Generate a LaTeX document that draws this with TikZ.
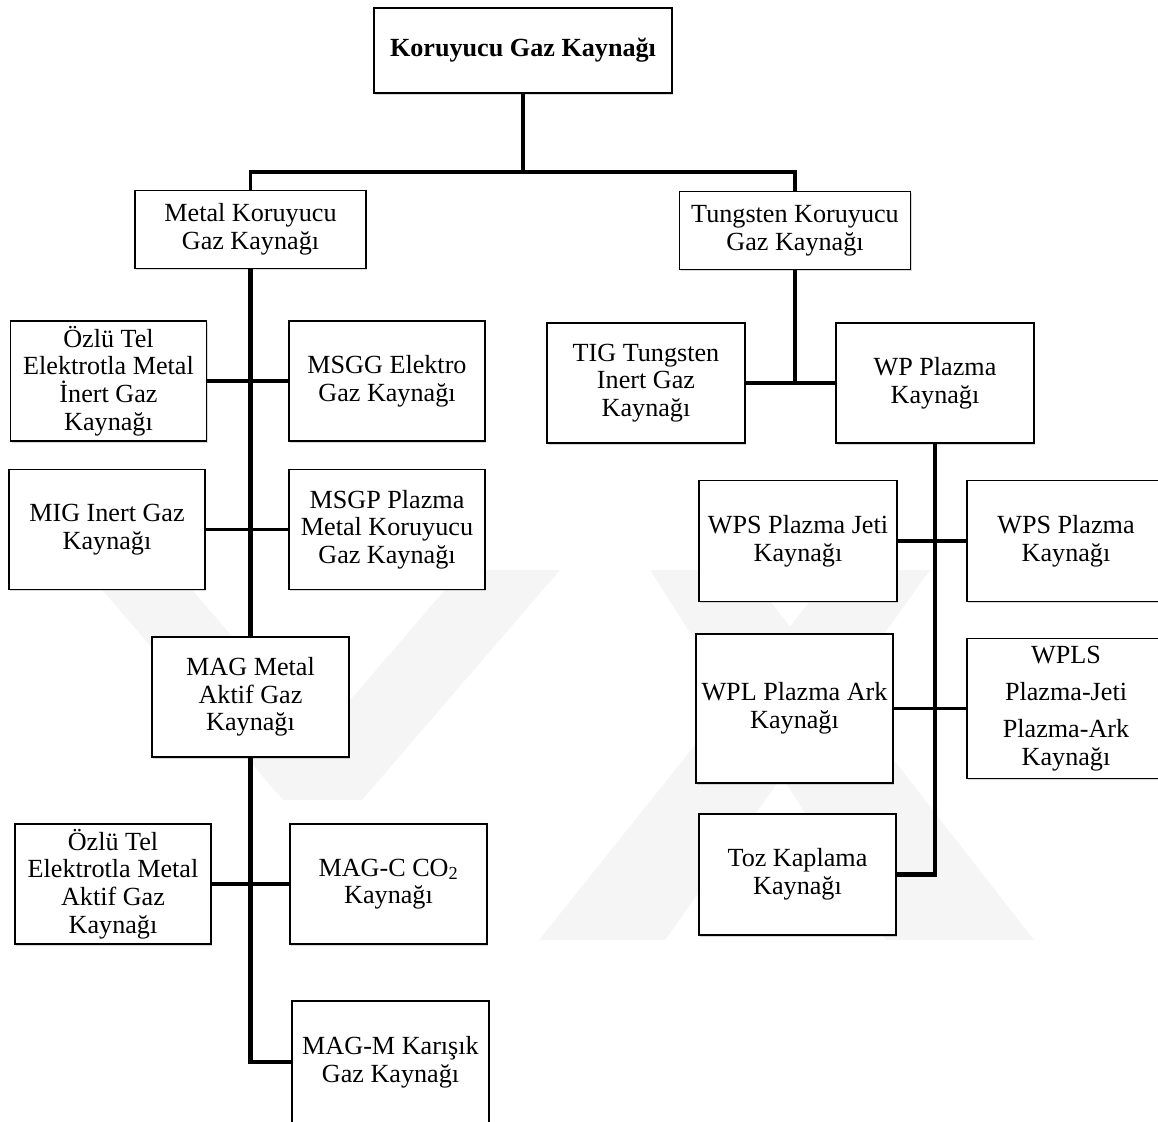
\documentclass[tikz,border=0pt]{standalone}
\usepackage{fontspec}
\setmainfont{Liberation Serif}
\usetikzlibrary{shadows}

\tikzset{
  kutu/.style={draw, line width=1.1pt, fill=white, align=center, inner sep=1pt,
    minimum width=4.9cm, minimum height=3cm,
    font=\fontsize{18.6}{19.6}\selectfont,
    drop shadow={shadow xshift=1pt, shadow yshift=-1.2pt, opacity=0.3}},
  govde/.style={line width=2.9pt},
  dal/.style={line width=2.2pt},
  iz/.style={fill=black!4, draw=none}
}

\begin{document}
\begin{tikzpicture}[x=0.025cm, y=-0.025cm]

\useasboundingbox (0,0) rectangle (1158,1122);

% Faint watermark in the background
\fill[iz] (85,570) -- (175,570) -- (318.5,737) -- (462,570) -- (560,570) -- (362,800) -- (283,800) -- cycle;
\fill[iz] (650,570) -- (746,570) -- (1034,940) -- (886,940) -- cycle;
\fill[iz] (835,570) -- (930,570) -- (665,940) -- (539,940) -- cycle;

% Root
\node[kutu, font=\fontsize{18.6}{19.6}\selectfont\bfseries, minimum width=7.45cm, minimum height=2.125cm]
  (kok) at (523,50.5) {Koruyucu Gaz Kaynağı};

% Second level
\node[kutu, minimum width=5.775cm, minimum height=1.95cm] (metal) at (250.5,229.5) {Metal Koruyucu\\Gaz Kaynağı};
\node[kutu, minimum width=5.775cm, minimum height=1.95cm] (tungsten) at (795,230.5) {Tungsten Koruyucu\\Gaz Kaynağı};

% Metal branch
\node[kutu] (ozlumig) at (108.5,381) {Özlü Tel\\Elektrotla Metal\\İnert Gaz\\Kaynağı};
\node[kutu] (msgg) at (387,381) {MSGG Elektro\\Gaz Kaynağı};
\node[kutu] (mig) at (107,529.5) {MIG Inert Gaz\\Kaynağı};
\node[kutu] (msgp) at (387,529.5) {MSGP Plazma\\Metal Koruyucu\\Gaz Kaynağı};
\node[kutu, minimum width=4.925cm] (mag) at (250.5,697) {MAG Metal\\Aktif Gaz\\Kaynağı};
\node[kutu] (ozlumag) at (113,884) {Özlü Tel\\Elektrotla Metal\\Aktif Gaz\\Kaynağı};
\node[kutu, minimum width=4.925cm] (magc) at (388.5,884) {MAG-C CO\textsubscript{2}\\Kaynağı};
\node[kutu, minimum width=4.925cm, minimum height=3.05cm] (magm) at (390.5,1062) {MAG-M Karışık\\Gaz Kaynağı};

% Tungsten branch
\node[kutu, minimum width=4.95cm] (tig) at (646,383) {TIG Tungsten\\Inert Gaz\\Kaynağı};
\node[kutu, minimum width=4.95cm] (wp) at (935,383) {WP Plazma\\Kaynağı};
\node[kutu, minimum width=4.95cm, minimum height=3.025cm] (wpsj) at (798,541) {WPS Plazma Jeti\\Kaynağı};
\node[kutu, minimum width=4.95cm, minimum height=3.025cm] (wps) at (1066,541) {WPS Plazma\\Kaynağı};
\node[kutu, minimum width=4.925cm, minimum height=3.725cm] (wpl) at (794.5,708.5) {WPL Plazma Ark\\Kaynağı};
\node[kutu, minimum width=4.95cm, minimum height=3.5cm] (wpls) at (1066,708.5) {WPLS\\[7pt]Plazma-Jeti\\[7pt]Plazma-Ark\\Kaynağı};
\node[kutu, minimum width=4.925cm, minimum height=3.025cm] (toz) at (797.5,874.5) {Toz Kaplama\\Kaynağı};

% Top bus
\coordinate (bus) at (0,172);
\draw[govde] (kok.south) -- (kok.south |- bus);
\draw[dal, line width=2.5pt] (metal.north) -- (metal.north |- bus) -- (tungsten.north |- bus) -- (tungsten.north);

% Metal trunk and its branches
\draw[govde] (metal.south) -- (mag.north);
\draw[govde] (mag.south) -- (mag.south |- magm.west) -- (magm.west);
\draw[dal] (ozlumig.east) -- (msgg.west);
\draw[dal] (mig.east) -- (msgp.west);
\draw[dal] (ozlumag.east) -- (magc.west);

% Tungsten trunk and its branches
\draw[govde] (tungsten.south) -- (tungsten.south |- tig.east);
\draw[dal] (tig.east) -- (wp.west);
\draw[govde] (wp.south) -- (wp.south |- toz.east) -- (toz.east);
\draw[dal] (wpsj.east) -- (wps.west);
\draw[dal] (wpl.east) -- (wpls.west);

\end{tikzpicture}
\end{document}
